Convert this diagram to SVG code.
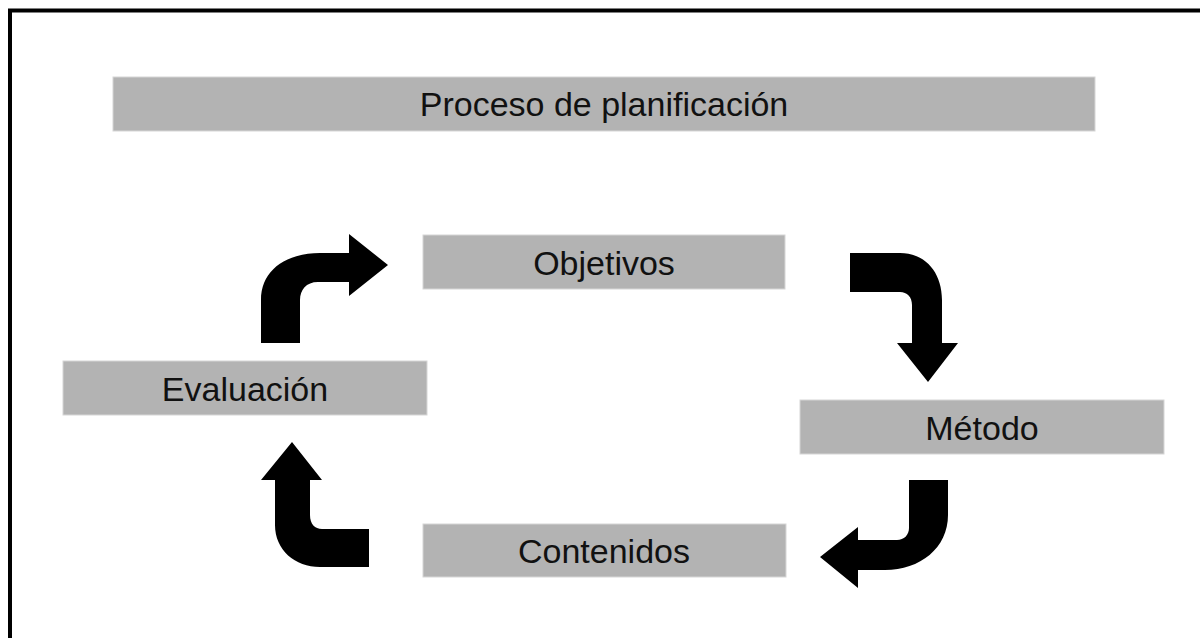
<svg xmlns="http://www.w3.org/2000/svg" width="1200" height="638" viewBox="0 0 1200 638">
<style>
.box{fill:#b3b3b3;stroke:#d6d6d6;stroke-width:1}
.lbl{font-family:"Liberation Sans",Arial,sans-serif;font-size:34px;fill:#111;text-anchor:middle}
.arr{fill:#000}
</style>
<rect x="0" y="0" width="1200" height="638" fill="#fff"/>
<g id="frame">
<path d="M10,638 L10,10.5 L1200,10.5" fill="none" stroke="#000" stroke-width="4"/>
</g>
<g id="title">
<rect class="box" x="113" y="77" width="982" height="54"/>
<text class="lbl" x="604" y="116">Proceso de planificación</text>
</g>
<g id="objetivos">
<rect class="box" x="423" y="235" width="362" height="54"/>
<text class="lbl" x="604" y="275">Objetivos</text>
</g>
<g id="metodo">
<rect class="box" x="800" y="400" width="364" height="54"/>
<text class="lbl" x="982" y="440">Método</text>
</g>
<g id="contenidos">
<rect class="box" x="423" y="524" width="363" height="53"/>
<text class="lbl" x="604" y="563">Contenidos</text>
</g>
<g id="evaluacion">
<rect class="box" x="63" y="361" width="364" height="54"/>
<text class="lbl" x="245" y="401">Evaluación</text>
</g>
<g id="connectors">
<path class="arr" d="M261,343 L261,300 C261,271 285,253 320,253 L349,253 L349,234 L388,265 L349,296 L349,282 L318,282 C306,282 300,290 300,300 L300,343 Z"/>
<path class="arr" d="M850,253 L900,253 C925,253 942,272 942,300 L942,343 L958,343 L928,382 L897,343 L912,343 L912,305 C912,297 907,292 900,292 L850,292 Z"/>
<path class="arr" d="M909,480 L948,480 L948,515 C948,548 920,570 885,570 L858,570 L858,588 L820,557 L858,527 L858,540 L897,540 C904,540 909,535 909,528 Z"/>
<path class="arr" d="M369,529 L322,529 C315,529 310,524 310,515 L310,480 L322,480 L292,442 L261,480 L275,480 L275,525 C275,550 295,567 320,567 L369,567 Z"/>
</g>
</svg>
